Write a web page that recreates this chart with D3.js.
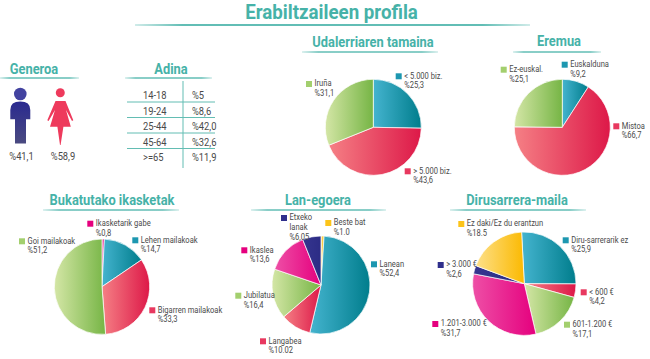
<!DOCTYPE html>
<html>
<head>
<meta charset="utf-8">
<script src="https://cdnjs.cloudflare.com/ajax/libs/d3/7.8.5/d3.min.js"></script>
<style>
html, body { margin: 0; padding: 0; background: #fff; }
svg { display: block; }
</style>
</head>
<body>
<div class="chart"></div>
<script>
let width = 650
let height = 359

// Generoa
let generoLabels = ['%41,1', '%58,9']

// Adina
let adinaCats = ['14-18', '19-24', '25-44', '45-64', '>=65']
let adinaVals = ['%5', '%8,6', '%42,0', '%32,6', '%11,9']

// pies: categories, values, value labels, colour names
let udalCats = ['< 5.000 biz.', '> 5.000 biz.', 'Iruña']
let udalVals = [25.3, 43.6, 31.1]
let udalText = ['%25,3', '%43,6', '%31,1']
let udalColors = ['blue', 'red', 'green']

let eremuCats = ['Euskalduna', 'Mistoa', 'Ez-euskal.']
let eremuVals = [9.2, 66.7, 25.1]
let eremuText = ['%9,2', '%66,7', '%25,1']
let eremuColors = ['blue', 'red', 'green']

let ikasCats = ['Ikasketarik gabe', 'Lehen mailakoak', 'Bigarren mailakoak', 'Goi mailakoak']
let ikasVals = [0.8, 14.7, 33.3, 51.2]
let ikasText = ['%0,8', '%14,7', '%33,3', '%51,2']
let ikasColors = ['pink', 'blue', 'red', 'green']

let lanCats = ['Beste bat', 'Lanean', 'Langabea', 'Jubilatua', 'Ikaslea', 'Etxeko\nlanak']
let lanVals = [1.0, 52.4, 10.02, 16.4, 13.6, 6.05]
let lanText = ['%1.0', '%52,4', '%10.02', '%16,4', '%13,6', '%6,05']
let lanColors = ['yellow', 'blue', 'red', 'green', 'pink', 'navy']

let diruCats = ['Diru-sarrerarik ez', '< 600 €', '601-1.200 €', '1.201-3.000 €', '> 3.000 €', 'Ez daki/Ez du erantzun']
let diruVals = [25.9, 4.2, 17.1, 31.7, 2.6, 18.5]
let diruText = ['%25,9', '%4,2', '%17,1', '%31,7', '%2,6', '%18.5']
let diruColors = ['blue', 'red', 'green', 'pink', 'navy', 'yellow']

let gradients = {
    blue: ['#45b4cf', '#007d8c'],
    red: ['#f58085', '#dd1848'],
    green: ['#d4e6a6', '#76b545'],
    pink: ['#ee4fa6', '#e5007e'],
    yellow: ['#fde08a', '#fbb900'],
    navy: ['#35358f', '#2c2c85']
}
let swatchFill = { blue: '#1d97b0', red: '#e8385f', green: '#a3cf6e', pink: '#e5007e', yellow: '#fcc419', navy: '#2f2f8c' }

let teal = '#46b2a8'
let textColor = '#4a4a4a'

let svg = d3.select('.chart')
            .append('svg')
            .attr('width', width)
            .attr('height', height)

let defs = svg.append('defs')
Object.keys(gradients).forEach(k => {
    let g = defs.append('linearGradient').attr('id', 'grad-' + k)
    g.append('stop').attr('offset', '0%').attr('stop-color', gradients[k][0])
    g.append('stop').attr('offset', '100%').attr('stop-color', gradients[k][1])
})
let underline = defs.append('linearGradient').attr('id', 'rule')
underline.append('stop').attr('offset', '0%').attr('stop-color', teal).attr('stop-opacity', 0.25)
underline.append('stop').attr('offset', '12%').attr('stop-color', teal).attr('stop-opacity', 0.85)
underline.append('stop').attr('offset', '88%').attr('stop-color', teal).attr('stop-opacity', 0.85)
underline.append('stop').attr('offset', '100%').attr('stop-color', teal).attr('stop-opacity', 0.25)

let manGrad = defs.append('linearGradient').attr('id', 'man').attr('x2', 0).attr('y2', 1)
manGrad.append('stop').attr('offset', '0%').attr('stop-color', '#2a2a90')
manGrad.append('stop').attr('offset', '100%').attr('stop-color', '#4a4a80')

// squeezed text, the installed fonts have no condensed cut
function label(x, y, str, size, weight, color, anchor, squeeze) {
    return svg.append('text')
        .attr('transform', `translate(${x},${y}) scale(${squeeze},1)`)
        .attr('font-family', 'Roboto')
        .attr('font-size', size)
        .attr('font-weight', weight)
        .attr('fill', color)
        .attr('text-anchor', anchor)
        .text(str)
}

function heading(str, cx, y, x0, x1, ruleY) {
    label(cx, y, str, 15.5, 700, teal, 'middle', 0.83)
    svg.append('rect')
        .attr('x', x0).attr('y', ruleY - 0.75)
        .attr('width', x1 - x0).attr('height', 1.5)
        .attr('fill', 'url(#rule)')
}

label(331.5, 19, 'Erabiltzaileen profila', 19.5, 700, teal, 'middle', 0.96)
svg.append('rect').attr('x', 135).attr('y', 24).attr('width', 395).attr('height', 2).attr('fill', 'url(#rule)')

heading('Generoa', 34, 74, 0, 79, 78)
heading('Adina', 171, 74, 125, 212, 78)
heading('Udalerriaren tamaina', 373, 47, 302, 438, 52)
heading('Eremua', 559, 46, 513, 601, 52)
heading('Bukatutako ikasketak', 112, 205, 43, 179, 210)
heading('Lan-egoera', 318, 205, 251, 386, 210)
heading('Dirusarrera-maila', 517, 205, 450, 586, 210)

// gender figures
svg.append('circle').attr('cx', 20.3).attr('cy', 94).attr('r', 6.3).attr('fill', '#4343a0')
svg.append('path')
    .attr('d', 'M10.3,119.3 V110 Q10.3,101.6 20.3,101.6 Q30.3,101.6 30.3,110 V119.3 H26 V143.5 H15 V119.3 Z')
    .attr('fill', 'url(#man)')
svg.append('circle').attr('cx', 60.3).attr('cy', 92.7).attr('r', 4.5).attr('fill', '#ee3a5c')
svg.append('path')
    .attr('d', 'M55.5,101 H65.5 L73.3,120.2 L72,121 L66,110 L70.8,126.7 H63.4 L60.6,145 H60 L57.4,126.7 H50 L55,110 L48.6,121 L47.3,120.2 Z')
    .attr('fill', '#ee3a5c')
let generoX = d3.scalePoint().domain(generoLabels).range([21.5, 63])
generoLabels.forEach(d => label(generoX(d), 160, d, 11, 400, textColor, 'middle', 0.85))

// age table
let rowY = d3.scalePoint().domain(adinaCats).range([99, 161])
adinaCats.forEach((d, i) => {
    label(143, rowY(d), d, 11, 400, textColor, 'start', 0.85)
    label(192, rowY(d), adinaVals[i], 11, 400, textColor, 'start', 0.85)
    if (i < adinaCats.length - 1) {
        svg.append('line')
           .attr('x1', 127).attr('x2', 215)
           .attr('y1', rowY(d) + 3).attr('y2', rowY(d) + 3)
           .attr('stroke', '#63bdb3').attr('stroke-width', 1)
    }
})
svg.append('line')
   .attr('x1', 183).attr('x2', 183).attr('y1', 81).attr('y2', 168)
   .attr('stroke', '#63bdb3').attr('stroke-width', 1)

// where each pie sits and where its legend entries go (swatch x, swatch y)
let pies = [
    { cats: udalCats, vals: udalVals, text: udalText, colors: udalColors, cx: 373.3, cy: 127.3, r: 48, start: 0,
      legend: [[395.7, 73.3], [404.7, 168.3], [306, 81]] },
    { cats: eremuCats, vals: eremuVals, text: eremuText, colors: eremuColors, cx: 562.3, cy: 127.3, r: 48, start: 0,
      legend: [[561.7, 61.7], [613.3, 123.3], [500.7, 66.7]] },
    { cats: ikasCats, vals: ikasVals, text: ikasText, colors: ikasColors, cx: 102, cy: 286.7, r: 47.7, start: 0,
      legend: [[87.3, 220.7], [132.3, 237.3], [149.3, 307.3], [19, 238.3]] },
    { cats: lanCats, vals: lanVals, text: lanText, colors: lanColors, cx: 321, cy: 285, r: 49, start: 0,
      legend: [[325.3, 220], [371, 261.3], [260, 338.3], [235.3, 292.7], [241.3, 247.3], [281, 215]] },
    { cats: diruCats, vals: diruVals, text: diruText, colors: diruColors, cx: 524.3, cy: 283.7, r: 51.7, start: -3,
      legend: [[562.7, 237.3], [580.7, 289.3], [564, 321.7], [432.3, 321], [437.7, 262], [458.3, 221]] }
]

pies.forEach(p => {
    let a0 = p.start * Math.PI / 180
    let pie = d3.pie().sort(null).startAngle(a0).endAngle(a0 + 2 * Math.PI)
    let arc = d3.arc().innerRadius(0).outerRadius(p.r)

    svg.append('g')
       .attr('transform', `translate(${p.cx},${p.cy})`)
       .selectAll('path')
       .data(pie(p.vals))
       .enter()
       .append('path')
       .attr('d', arc)
       .attr('fill', (d, i) => `url(#grad-${p.colors[i]})`)
       .attr('stroke', '#fff')
       .attr('stroke-width', 0.7)

    p.cats.forEach((c, i) => {
        let [sx, sy] = p.legend[i]
        svg.append('rect')
           .attr('x', sx).attr('y', sy).attr('width', 6).attr('height', 6)
           .attr('fill', swatchFill[p.colors[i]])
        let lines = c.split('\n').concat(p.text[i])
        lines.forEach((t, j) => {
            label(sx + 8.5, sy + 5.2 + j * 9.9, t, 8.3, 400, textColor, 'start', 0.91)
        })
    })
})
</script>
</body>
</html>
